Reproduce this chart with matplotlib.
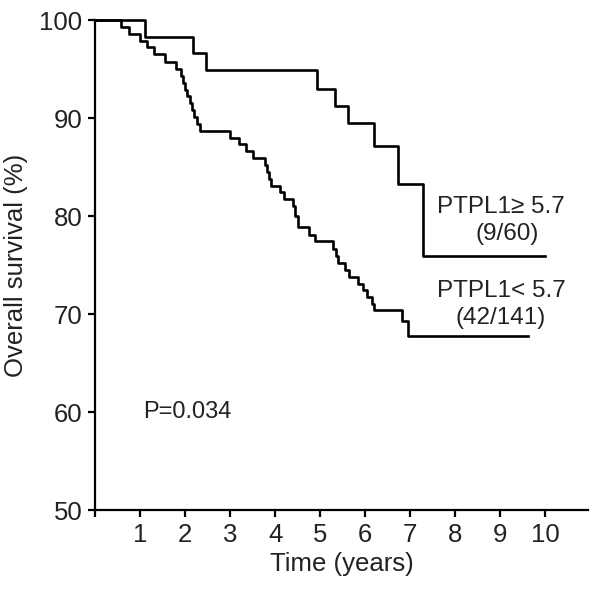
import matplotlib
matplotlib.use('Agg')
import matplotlib.pyplot as plt
import numpy as np

plt.rcParams['font.family'] = ['Liberation Sans', 'DejaVu Sans']

# high PTPL1 group (events 9/60)
hi_t = [0, 1.1, 2.18, 2.47, 4.93, 5.33, 5.62, 6.2, 6.73, 7.28, 10.0]
hi_s = [100, 98.3, 96.6, 94.9, 93.0, 91.2, 89.5, 87.1, 83.3, 75.9, 75.9]

# low PTPL1 group (events 42/141)
lo_t = [0, 0.58, 0.75, 1.0, 1.15, 1.3, 1.55, 1.8, 1.9, 1.95, 2.0, 2.05, 2.1,
        2.15, 2.2, 2.27, 2.33, 3.0, 3.2, 3.35, 3.5, 3.78, 3.82, 3.86, 3.9,
        4.1, 4.2, 4.4, 4.45, 4.5, 4.75, 4.88, 5.28, 5.35, 5.4, 5.55, 5.65,
        5.85, 5.95, 6.05, 6.15, 6.2, 6.82, 6.96, 9.62]
lo_s = [100, 99.3, 98.6, 97.9, 97.2, 96.5, 95.7, 95.0, 94.3, 93.6, 92.9, 92.2,
        91.5, 90.8, 90.1, 89.4, 88.7, 88.0, 87.3, 86.6, 85.9, 85.2, 84.5, 83.8,
        83.1, 82.4, 81.7, 81.0, 80.0, 78.9, 78.1, 77.4, 76.6, 75.9, 75.2, 74.5,
        73.8, 73.1, 72.4, 71.7, 71.0, 70.4, 69.3, 67.8, 67.8]

xticks = list(range(0, 11))
xlabels = [''] + [str(i) for i in range(1, 11)]
yticks = [50, 60, 70, 80, 90, 100]

fig = plt.figure(figsize=(6, 6.01), dpi=100)
ax = fig.add_axes([0.1583, 0.1514, 0.98 - 0.1583, 0.9667 - 0.1514])

ax.step(hi_t, hi_s, where='post', color='black', lw=1.9, clip_on=False)
ax.step(lo_t, lo_s, where='post', color='black', lw=1.9, clip_on=False)

ax.set_xlim(0, 10.95)
ax.set_ylim(50, 100)
ax.set_xticks(xticks)
ax.set_xticklabels(xlabels)
ax.set_yticks(yticks)

for s in ['top', 'right']:
    ax.spines[s].set_visible(False)
for s in ['left', 'bottom']:
    ax.spines[s].set_linewidth(1.6)

ax.tick_params(direction='out', length=5, width=1.6, labelsize=18.5,
               labelcolor='#222222', pad=4)

ax.set_xlabel('Time (years)', fontsize=18.5, color='#222222', labelpad=4)
ax.set_ylabel('Overall survival (%)', fontsize=18.5, color='#222222', labelpad=8)

tc = '#222222'
ax.text(9.02, 80.9, 'PTPL1\u2265 5.7', fontsize=17.5, color=tc, ha='center', va='center')
ax.text(9.16, 78.2, '(9/60)', fontsize=17.5, color=tc, ha='center', va='center')
ax.text(9.02, 72.3, 'PTPL1< 5.7', fontsize=17.5, color=tc, ha='center', va='center')
ax.text(9.02, 69.6, '(42/141)', fontsize=17.5, color=tc, ha='center', va='center')
ax.text(1.07, 60.0, 'P=0.034', fontsize=17, color=tc, ha='left', va='center')

fig.savefig('out.png', dpi=100)
